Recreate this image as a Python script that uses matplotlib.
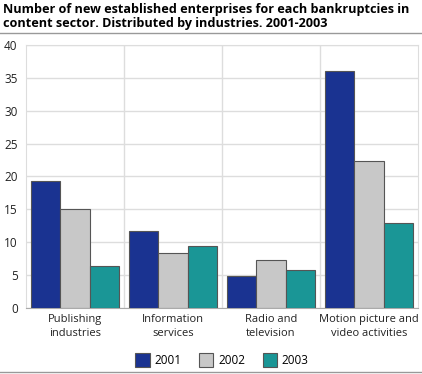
import numpy as np
import matplotlib.pyplot as plt
from matplotlib.lines import Line2D

plt.rcParams["font.family"] = ["Open Sans", "DejaVu Sans"]

# --- Data ---
industries = ["Publishing\nindustries", "Information\nservices",
              "Radio and\ntelevision", "Motion picture and\nvideo activities"]
years = ["2001", "2002", "2003"]
v2001 = [19.3, 11.7, 4.8, 36.0]
v2002 = [15.1, 8.4, 7.25, 22.4]
v2003 = [6.4, 9.5, 5.8, 13.0]
colors = ["#1a3391", "#c8c8c8", "#1a9696"]

fig = plt.figure(figsize=(4.22, 3.74), dpi=100)
ax = fig.add_axes([0.0616, 0.1765, 0.929, 0.7032])

x = np.arange(len(industries))
w = 0.3
for i, (vals, c) in enumerate(zip([v2001, v2002, v2003], colors)):
    ax.bar(x + (i - 1) * w, vals, width=w, color=c, edgecolor="#555555",
           linewidth=0.8, label=years[i], zorder=3)

ax.set_xlim(-0.5, len(industries) - 0.5)
ax.set_ylim(0, 40)
ax.set_yticks(range(0, 41, 5))
ax.set_xticks(x)
ax.set_xticklabels(industries, fontsize=8, color="#222222", linespacing=1.4)
ax.tick_params(axis="y", labelsize=8.5, colors="#222222", length=0, pad=6)
ax.tick_params(axis="x", length=0, pad=4)

ax.grid(axis="y", color="#dddddd", linewidth=1, zorder=0)
for b in np.arange(0.5, len(industries) - 0.5, 1):
    ax.axvline(b, color="#dddddd", linewidth=1, zorder=0)
for s in ax.spines.values():
    s.set_color("#dddddd")
ax.spines["bottom"].set_color("#aaaaaa")

fig.text(0.008, 0.992, "Number of new established enterprises for each bankruptcies in\n"
         "content sector. Distributed by industries. 2001-2003",
         fontsize=9.1, fontweight="bold", va="top", ha="left", linespacing=1.15)
fig.add_artist(Line2D([0, 1], [0.912, 0.912], color="#999999", linewidth=1))
fig.add_artist(Line2D([0, 1], [0.006, 0.006], color="#999999", linewidth=1))

ax.legend(loc="lower center", bbox_to_anchor=(0.5, -0.265), ncol=3, frameon=False,
          fontsize=8.5, handlelength=1.2, handleheight=1.4, columnspacing=1.5,
          handletextpad=0.4)

plt.savefig("out.png", dpi=100)
